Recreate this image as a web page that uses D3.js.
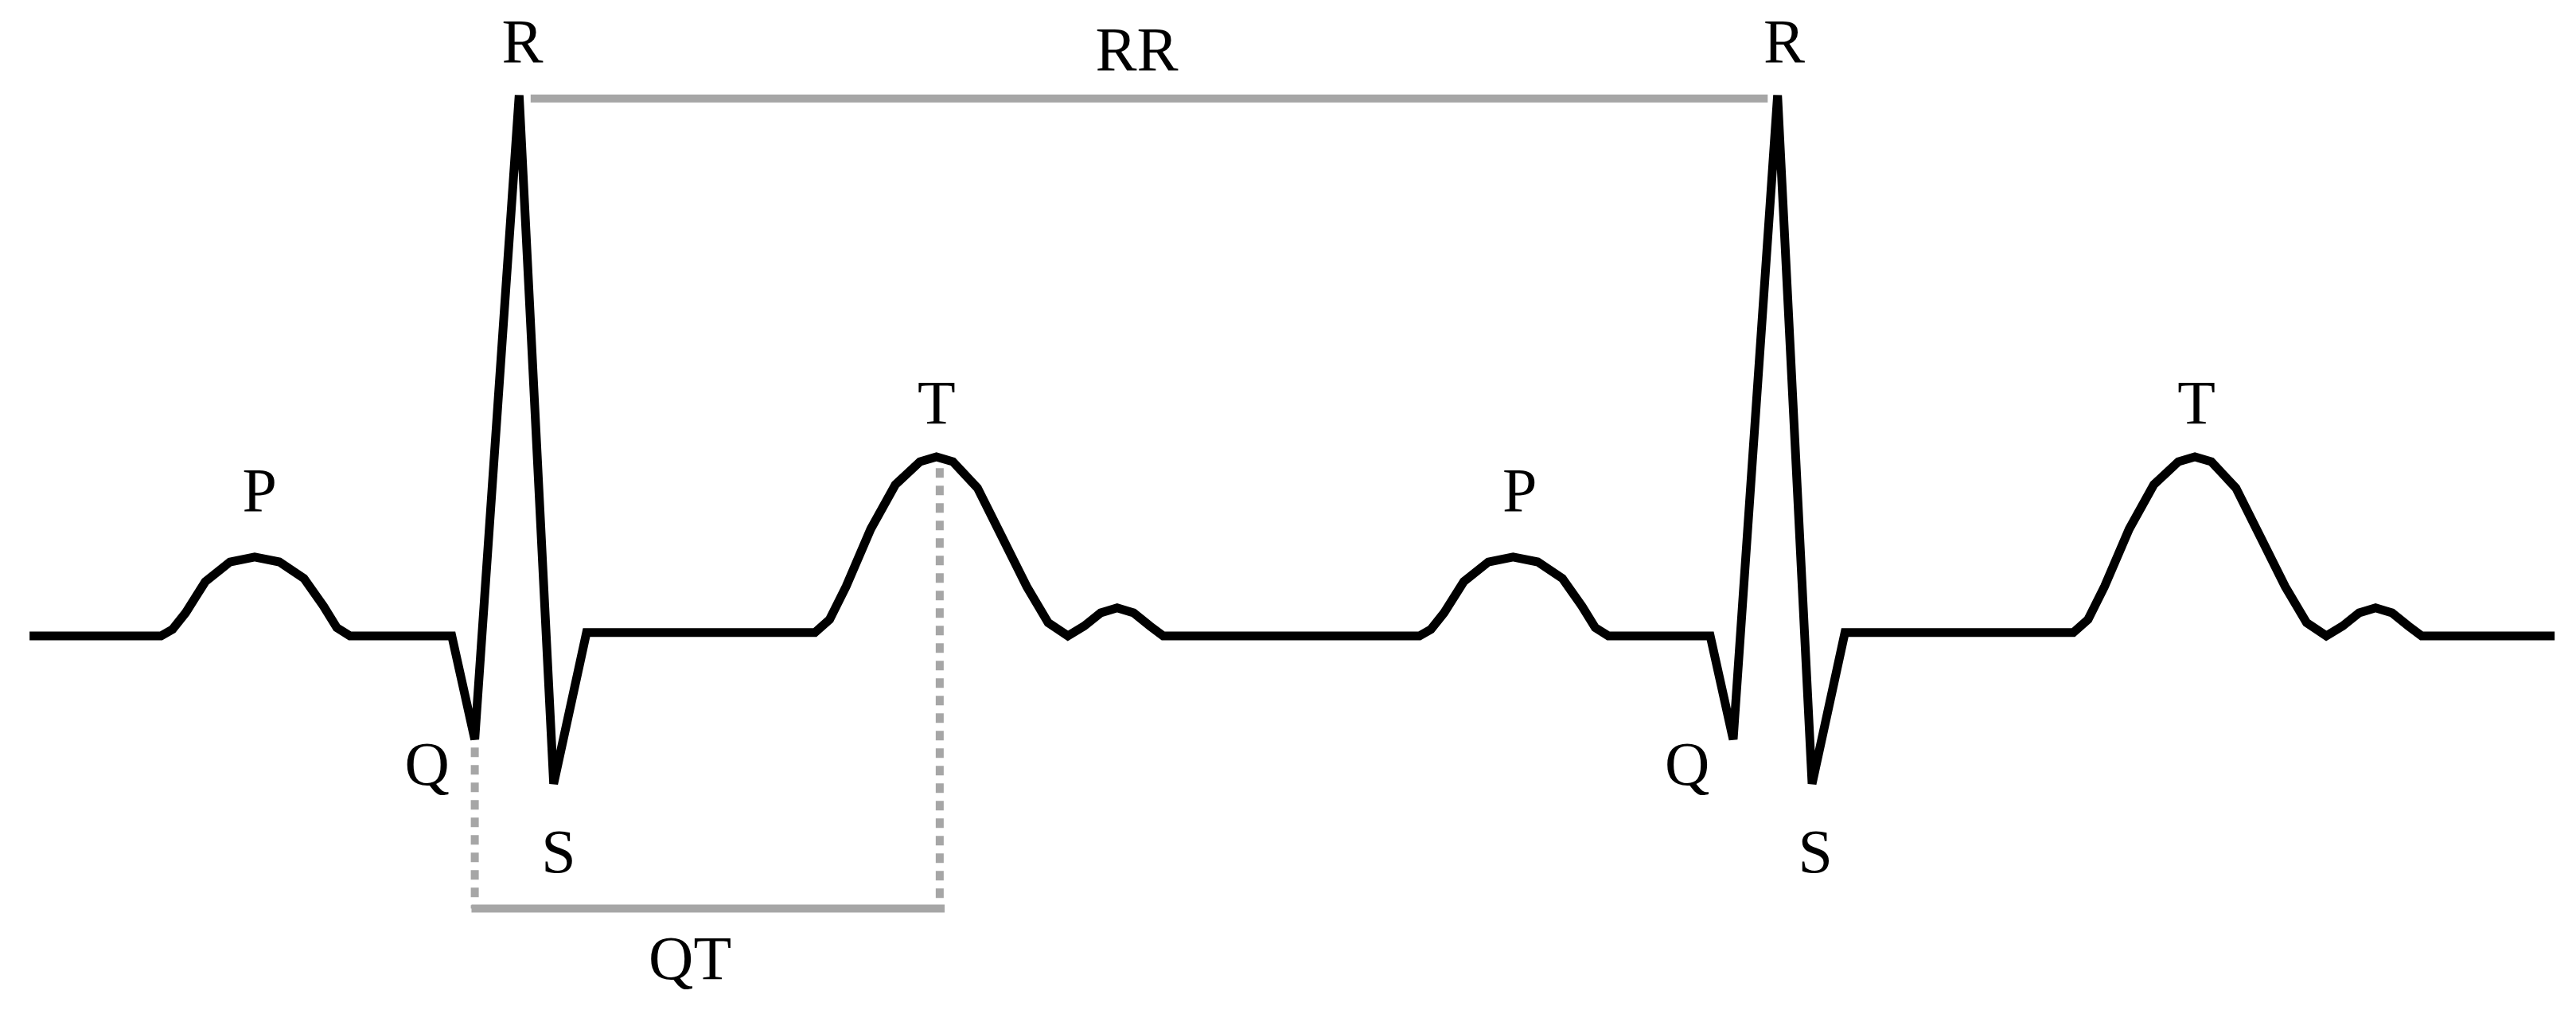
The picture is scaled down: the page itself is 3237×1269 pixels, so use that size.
<!DOCTYPE html>
<html><head><meta charset="utf-8">
<script src="https://cdn.jsdelivr.net/npm/d3@7"></script>
<style>body{margin:0;background:#fff}svg{display:block}</style>
</head><body>
<svg id="c" width="3237" height="1269"></svg>
<script>
// beat template: time (units) and amplitude (units, baseline = 0)
const beatTime = [0,7,15,27,42,57,72,87,99,107,115,177,191,218,239,259,398,407,417,432,447,462,472,482,497,512,527,540,552,562,572,582,592,602,610,689];
const beatAmp  = [0,4,14,33,45,48,45,35,18,5,0,0,-63,329,-90,2,2,10,30,65,92,106,109,106,90,60,30,8,0,6,14,17,14,6,0,0];
const beatStarts = [98, 864];
const leadTime = [18], leadAmp = [0];
const tailTime = [1555], tailAmp = [0];
const rrLine = {t0:323, t1:1076, a:327};
const qtLine = {tQ:289, aQ:-68, tT:572, aT:102, a:-166};
const labels = [
 {text:"R",t:318,a:362},{text:"RR",t:692,a:357},{text:"R",t:1086,a:362},
 {text:"P",t:158,a:89},{text:"T",t:570,a:142},{text:"P",t:925,a:89},{text:"T",t:1337,a:142},
 {text:"Q",t:260,a:-78},{text:"S",t:340,a:-131},{text:"Q",t:1027,a:-78},{text:"S",t:1105,a:-131},
 {text:"QT",t:420,a:-196}];

const k = 3237/1568;
const x = d3.scaleLinear().domain([0,1568]).range([0,1568*k]);
const y = d3.scaleLinear().domain([387,-228]).range([0,615*k]);
const svg = d3.select("#c");

const pts = leadTime.map((t,i)=>[t,leadAmp[i]]);
beatStarts.forEach(s=>beatTime.forEach((t,i)=>pts.push([s+t,beatAmp[i]])));
tailTime.forEach((t,i)=>pts.push([t,tailAmp[i]]));

const gray="#a6a6a6";
svg.append("line").attr("x1",x(rrLine.t0)).attr("x2",x(rrLine.t1)).attr("y1",y(rrLine.a)).attr("y2",y(rrLine.a)).attr("stroke",gray).attr("stroke-width",10);
[[qtLine.tQ,qtLine.aQ],[qtLine.tT,qtLine.aT]].forEach(([t,a])=>
 svg.append("line").attr("x1",x(t)).attr("x2",x(t)).attr("y1",y(a)).attr("y2",y(qtLine.a)).attr("stroke",gray).attr("stroke-width",10).attr("stroke-dasharray","12,10"));
svg.append("line").attr("x1",x(qtLine.tQ-2)).attr("x2",x(qtLine.tT+3)).attr("y1",y(qtLine.a)).attr("y2",y(qtLine.a)).attr("stroke",gray).attr("stroke-width",10);

svg.append("path").datum(pts).attr("d",d3.line().x(d=>x(d[0])).y(d=>y(d[1])))
 .attr("fill","none").attr("stroke","#000").attr("stroke-width",11).attr("stroke-linejoin","miter").attr("stroke-miterlimit",3);

svg.selectAll("text.l").data(labels).join("text").attr("class","l")
 .attr("x",d=>x(d.t)).attr("y",d=>y(d.a)).attr("text-anchor","middle").attr("dominant-baseline","central")
 .attr("font-family","Liberation Serif, DejaVu Serif, serif").attr("font-size",78).text(d=>d.text);
</script>
</body></html>
